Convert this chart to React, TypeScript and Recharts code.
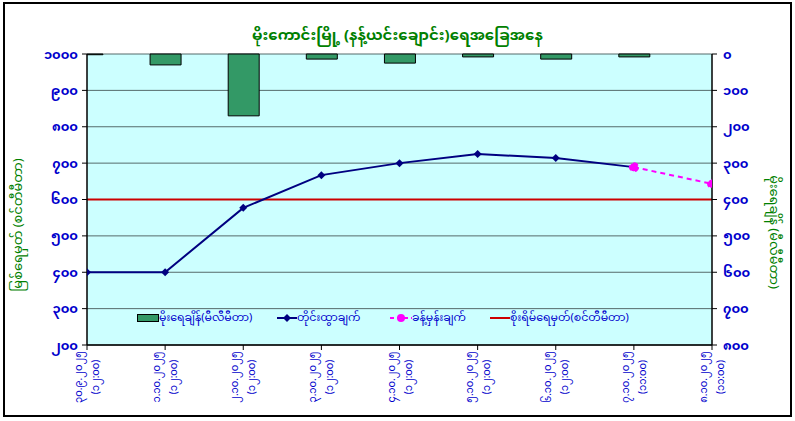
import { ComposedChart, Bar, Line, XAxis, YAxis, CartesianGrid } from "recharts";

// x positions (0..8) = observation days
const dateLabels = [
  "၃၀.၉.၂၀၂၅", "၁.၁၀.၂၀၂၅", "၂.၁၀.၂၀၂၅", "၃.၁၀.၂၀၂၅", "၄.၁၀.၂၀၂၅",
  "၅.၁၀.၂၀၂၅", "၆.၁၀.၂၀၂၅", "၇.၁၀.၂၀၂၅", "၈.၁၀.၂၀၂၅",
];
const timeLabels = [
  "(၁၂:၀၀)", "(၁၂:၀၀)", "(၁၂:၀၀)", "(၁၂:၀၀)", "(၁၂:၀၀)",
  "(၁၂:၀၀)", "(၁၂:၀၀)", "(၁၁:၀၀)", "(၁၁:၀၀)",
];
const rainfall = [2, 30, 170, 14, 25, 8, 14, 8, null];
const observed = [400, 400, 577, 667, 700, 725, 714, 689, null];
const forecast = [null, null, null, null, null, null, null, 689, 643];
const danger = [600, 600, 600, 600, 600, 600, 600, 600, 600];

const leftTicks = [200, 300, 400, 500, 600, 700, 800, 900, 1000];
const rightTicks = [0, 100, 200, 300, 400, 500, 600, 700, 800];
const xTicks = [0, 1, 2, 3, 4, 5, 6, 7, 8];

const data = dateLabels.map((d, i) => ({
  i,
  rain: rainfall[i],
  obs: observed[i],
  fc: forecast[i],
  danger: danger[i],
}));

const MY_DIGITS = "၀၁၂၃၄၅၆၇၈၉";
const toMy = (v: number | string) => String(v).replace(/\d/g, d => MY_DIGITS[+d]);

const FONT = "'Noto Sans', 'Noto Sans Myanmar', sans-serif";
const BLUE = "#0000CC";
const GREEN = "#008000";

function DateTick(props: any) {
  const { x, y, payload } = props;
  const i = payload.value;
  return (
    <g transform={`translate(${x},${y + 25})`}>
      <text transform="rotate(-90)" y={-5} textAnchor="middle" fill={BLUE} fontSize={10} fontFamily={FONT}>
        {dateLabels[i]}
      </text>
      <text transform="rotate(-90)" y={12} textAnchor="middle" fill={BLUE} fontSize={10} fontFamily={FONT}>
        {timeLabels[i]}
      </text>
    </g>
  );
}

function Diamond(props: any) {
  const { cx, cy } = props;
  if (cx == null || cy == null) return null;
  return <polygon points={`${cx},${cy - 4} ${cx + 4},${cy} ${cx},${cy + 4} ${cx - 4},${cy}`} fill="#000080" />;
}

const legendText = { fontSize: 11, color: BLUE, fontFamily: FONT, whiteSpace: "nowrap" as const };

export default function App() {
  return (
    <div style={{ position: "absolute", left: 0, top: 0, width: 795, height: 421, background: "#fff" }}>
      <div style={{ position: "absolute", left: 3, top: 2, width: 785, height: 411, border: "2px solid #000" }} />
      <ComposedChart
        width={795}
        height={421}
        data={data}
        margin={{ top: 54, left: 7, right: 38, bottom: 6 }}
        style={{ position: "absolute", left: 0, top: 0 }}
      >
        <CartesianGrid yAxisId="left" vertical={false} fill="#CCFFFF" stroke="#556b6b" strokeWidth={1} />
        <XAxis
          dataKey="i"
          type="number"
          domain={[0, 8]}
          ticks={xTicks}
          allowDataOverflow
          interval={0}
          height={70}
          tick={<DateTick />}
          tickSize={5}
          axisLine={{ stroke: "#000", strokeWidth: 1.5 }}
          tickLine={{ stroke: "#000" }}
        />
        <YAxis
          yAxisId="left"
          domain={[200, 1000]}
          ticks={leftTicks}
          interval={0}
          width={80}
          tickSize={5}
          tickMargin={4}
          tickFormatter={v => toMy(v)}
          tick={{ fill: BLUE, fontSize: 13, fontWeight: "bold", fontFamily: FONT }}
          axisLine={{ stroke: "#000", strokeWidth: 1.5 }}
          tickLine={{ stroke: "#000" }}
        />
        <YAxis
          yAxisId="right"
          orientation="right"
          reversed
          domain={[0, 800]}
          ticks={rightTicks}
          interval={0}
          width={45}
          tickSize={5}
          tickMargin={6}
          tickFormatter={v => toMy(v)}
          tick={{ fill: BLUE, fontSize: 13, fontWeight: "bold", fontFamily: FONT, textAnchor: "start" }}
          axisLine={{ stroke: "#000", strokeWidth: 1.5 }}
          tickLine={{ stroke: "#000" }}
        />
        <Bar
          yAxisId="right"
          dataKey="rain"
          barSize={31}
          fill="#339966"
          stroke="#000"
          strokeWidth={1}
          isAnimationActive={false}
        />
        <Line
          yAxisId="left"
          dataKey="danger"
          stroke="#CC0000"
          strokeWidth={2}
          dot={false}
          activeDot={false}
          isAnimationActive={false}
        />
        <Line
          yAxisId="left"
          dataKey="obs"
          stroke="#000080"
          strokeWidth={2}
          dot={<Diamond />}
          activeDot={false}
          isAnimationActive={false}
        />
        <Line
          yAxisId="left"
          dataKey="fc"
          stroke="#FF00FF"
          strokeWidth={2}
          strokeDasharray="5 4"
          dot={{ r: 4, fill: "#FF00FF", stroke: "#FF00FF" }}
          activeDot={false}
          isAnimationActive={false}
        />
      </ComposedChart>

      <div style={{ position: "absolute", left: 0, width: 795, top: 20, textAlign: "center", color: GREEN, fontSize: 15, fontWeight: "bold", fontFamily: FONT }}>
        မိုးကောင်းမြို့ (နန့်ယင်းချောင်း)ရေအခြေအနေ
      </div>
      <div style={{ position: "absolute", left: 19, top: 225, transform: "translate(-50%,-50%) rotate(-90deg)", color: GREEN, fontSize: 13, fontFamily: FONT, whiteSpace: "nowrap" }}>
        မြစ်ရေမှတ် (စင်တီမီတာ)
      </div>
      <div style={{ position: "absolute", left: 773, top: 232, transform: "translate(-50%,-50%) rotate(90deg)", color: GREEN, fontSize: 13, fontFamily: FONT, whiteSpace: "nowrap" }}>
        မိုးရေချိန် (မီလီမီတာ)
      </div>

      {/* legend */}
      <div style={{ position: "absolute", left: 137, top: 310, height: 16, display: "flex", alignItems: "center" }}>
        <div style={{ width: 20, height: 6, background: "#339966", border: "1px solid #000" }} />
        <span style={legendText}>မိုးရေချိန်(မီလီမီတာ)</span>
      </div>
      <div style={{ position: "absolute", left: 277, top: 310, height: 16, display: "flex", alignItems: "center" }}>
        <svg width={20} height={10}>
          <line x1={0} y1={5} x2={20} y2={5} stroke="#000080" strokeWidth={2} />
          <polygon points="10,1 14,5 10,9 6,5" fill="#000080" />
        </svg>
        <span style={legendText}>တိုင်းထွာချက်</span>
      </div>
      <div style={{ position: "absolute", left: 390, top: 310, height: 16, display: "flex", alignItems: "center" }}>
        <svg width={22} height={10}>
          <line x1={0} y1={5} x2={22} y2={5} stroke="#FF00FF" strokeWidth={2} strokeDasharray="4 3" />
          <circle cx={11} cy={5} r={4} fill="#FF00FF" />
        </svg>
        <span style={legendText}>ခန့်မှန်းချက်</span>
      </div>
      <div style={{ position: "absolute", left: 490, top: 310, height: 16, display: "flex", alignItems: "center" }}>
        <svg width={20} height={10}>
          <line x1={0} y1={5} x2={20} y2={5} stroke="#CC0000" strokeWidth={2} />
        </svg>
        <span style={legendText}>စိုးရိမ်ရေမှတ်(စင်တီမီတာ)</span>
      </div>
    </div>
  );
}
